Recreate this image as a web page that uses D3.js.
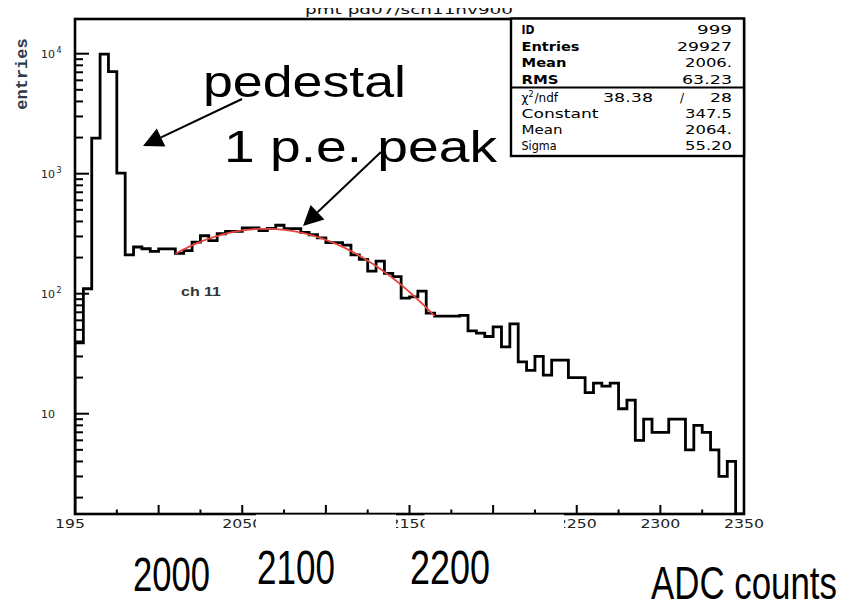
<!DOCTYPE html>
<html>
<head>
<meta charset="utf-8">
<script src="https://cdn.jsdelivr.net/npm/d3@7"></script>
<style>
  body { margin: 0; background: #fff; }
  svg { display: block; }
</style>
</head>
<body>
<svg id="chart" width="845" height="610"></svg>
<script>
// ---- data -------------------------------------------------------------
// ADC histogram, 5-count bins starting at 1950
const binStart = 1950;
const binWidth = 5;
const counts = [
  39, 110, 1980, 9900, 7100, 1010, 211, 245, 237, 225,
  236, 236, 217, 229, 269, 304, 277, 316, 331, 331,
  354, 354, 336, 350, 372, 348, 348, 325, 310, 292,
  266, 266, 254, 211, 193, 154, 187, 148, 139, 92,
  94, 105, 69, 65, 65, 65, 66, 49, 47, 44,
  53, 36, 56, 27, 23, 30, 21, 28, 28, 20,
  20, 15, 18, 17, 18, 11, 13, 6, 9, 7,
  7, 9, 9, 5, 8, 7, 5, 3, 4, 0
];

// Gaussian fit of the single photo-electron peak
const fitConstant = 347.5;
const fitMean = 2064;
const fitSigma = 55.2;
const fitRange = [2010, 2165];

// axes
const xDomain = [1950, 2350];
const yDomain = [1.46, 19460];
const xMajorTicks = [1950, 2000, 2050, 2100, 2150, 2200, 2250, 2300, 2350];
const xMinorTicks = [1975, 2025, 2075, 2125, 2175, 2225, 2275, 2325];
const xTickLabels = ["1950", "2000", "2050", "2100", "2150", "2200", "2250", "2300", "2350"];
const yDecades = [10, 100, 1000, 10000];
const yDecadeExp = ["", "2", "3", "4"];

// statistics box
const statNames = ["ID", "Entries", "Mean", "RMS"];
const statValues = ["999", "29927", "2006.", "63.23"];
const chi2Value = "38.38";
const ndfValue = "28";
const fitNames = ["Constant", "Mean", "Sigma"];
const fitValues = ["347.5", "2064.", "55.20"];

// slide captions
const bigXLabels = ["2000", "2100", "2200"];
const xTitle = "ADC counts";
const yTitle = "entries";
const histTitle = "pmt  pd07/sch11hv900";
const channelLabel = "ch 11";
const notePedestal = "pedestal";
const notePeak = "1 p.e. peak";

// ---- layout -----------------------------------------------------------
const frame = { left: 75, right: 744, top: 19, bottom: 514 };
const svg = d3.select("#chart");

const x = d3.scaleLinear().domain(xDomain).range([frame.left, frame.right]);
const y = d3.scaleLog().domain(yDomain).range([frame.bottom, frame.top]);

const defs = svg.append("defs");
defs.append("clipPath").attr("id", "plotClip")
  .append("rect")
  .attr("x", frame.left).attr("y", frame.top)
  .attr("width", frame.right - frame.left).attr("height", frame.bottom - frame.top);

// ---- histogram outline --------------------------------------------------
const pts = [[x(binStart), frame.bottom]];
counts.forEach((c, i) => {
  const lo = binStart + i * binWidth;
  const hi = lo + binWidth;
  const yy = c > 0 ? y(c) : frame.bottom;
  pts.push([x(lo), yy], [x(hi), yy]);
});
pts.push([x(binStart + counts.length * binWidth), frame.bottom]);

svg.append("path")
  .attr("clip-path", "url(#plotClip)")
  .attr("d", d3.line()(pts))
  .attr("fill", "none")
  .attr("stroke", "#000")
  .attr("stroke-width", 2.8)
  .attr("stroke-linejoin", "miter");

// ---- fitted gaussian ----------------------------------------------------
const gauss = v => fitConstant * Math.exp(-0.5 * Math.pow((v - fitMean) / fitSigma, 2));
const fitPts = d3.range(fitRange[0], fitRange[1] + 0.01, 1).map(v => [x(v), y(gauss(v))]);
svg.append("path")
  .attr("d", d3.line().curve(d3.curveMonotoneX)(fitPts))
  .attr("fill", "none")
  .attr("stroke", "#e5453c")
  .attr("stroke-width", 1.8);

// ---- frame & ticks ------------------------------------------------------
svg.append("rect")
  .attr("x", frame.left).attr("y", frame.top)
  .attr("width", frame.right - frame.left).attr("height", frame.bottom - frame.top)
  .attr("fill", "none").attr("stroke", "#000").attr("stroke-width", 2.6);

const ticks = svg.append("g").attr("stroke", "#000").attr("stroke-width", 2);
xMajorTicks.forEach(v => ticks.append("line")
  .attr("x1", x(v)).attr("x2", x(v)).attr("y1", frame.bottom).attr("y2", frame.bottom - 9));
xMinorTicks.forEach(v => ticks.append("line")
  .attr("x1", x(v)).attr("x2", x(v)).attr("y1", frame.bottom).attr("y2", frame.bottom - 4.5));

// log ticks on the left axis
const yMinor = [];
[1, 10, 100, 1000, 10000].forEach(d => {
  for (let k = 2; k <= 9; k++) {
    const v = d * k;
    if (v > yDomain[0] && v < yDomain[1]) yMinor.push(v);
  }
});
yMinor.forEach(v => ticks.append("line")
  .attr("x1", frame.left).attr("x2", frame.left + 8).attr("y1", y(v)).attr("y2", y(v)));
yDecades.forEach(v => ticks.append("line")
  .attr("x1", frame.left).attr("x2", frame.left + 14).attr("y1", y(v)).attr("y2", y(v)));

// tick labels
const tickFont = "'DejaVu Sans', sans-serif";
svg.append("g").selectAll("text").data(xMajorTicks).join("text")
  .attr("x", d => x(d) - 20).attr("y", 527.5)
  .attr("font-family", tickFont).attr("font-size", 12).attr("fill", "#222")
  .attr("textLength", 40).attr("lengthAdjust", "spacingAndGlyphs")
  .text((d, i) => xTickLabels[i]);

const yLab = svg.append("g").attr("font-family", tickFont).attr("fill", "#222");
yDecades.forEach((v, i) => {
  const t = yLab.append("text").attr("x", 41).attr("y", y(v) + 4).attr("font-size", 11);
  t.append("tspan").text("10");
  if (yDecadeExp[i]) {
    t.append("tspan").attr("dx", 1.5).attr("dy", -5).attr("font-size", 8).text(yDecadeExp[i]);
  }
});

// axis title
svg.append("text")
  .attr("transform", "translate(27,74) rotate(-90)")
  .attr("text-anchor", "middle")
  .attr("font-family", "'Liberation Mono', 'DejaVu Sans Mono', monospace")
  .attr("font-weight", "bold").attr("font-size", 17)
  .attr("fill", "#2d3a4c")
  .text(yTitle);

// histogram title, cut by the top of the page
defs.append("clipPath").attr("id", "titleClip")
  .append("rect").attr("x", 0).attr("y", 8).attr("width", 845).attr("height", 10);
svg.append("text")
  .attr("clip-path", "url(#titleClip)")
  .attr("x", 305).attr("y", 14)
  .attr("font-family", tickFont).attr("font-size", 12.5).attr("fill", "#111")
  .attr("textLength", 208).attr("lengthAdjust", "spacingAndGlyphs")
  .text(histTitle);

// channel tag
svg.append("text")
  .attr("x", 181).attr("y", 296)
  .attr("font-family", "'Liberation Sans', Arial, sans-serif")
  .attr("font-weight", "bold").attr("font-size", 12).attr("fill", "#333")
  .attr("textLength", 40).attr("lengthAdjust", "spacingAndGlyphs")
  .text(channelLabel);

// ---- statistics box ----------------------------------------------------
const box = { left: 511, right: 744, top: 18.5, bottom: 156, split: 87.5 };
const sb = svg.append("g");
sb.append("rect")
  .attr("x", box.left).attr("y", box.top)
  .attr("width", box.right - box.left).attr("height", box.bottom - box.top)
  .attr("fill", "#fff").attr("stroke", "#000").attr("stroke-width", 2.4);
sb.append("line")
  .attr("x1", box.left).attr("x2", box.right).attr("y1", box.split).attr("y2", box.split)
  .attr("stroke", "#000").attr("stroke-width", 2.2);

const statFont = "'DejaVu Sans', sans-serif";
const nameX = 521.5, valueRight = 732;
const topRows = [34, 50.5, 67, 83.5];
const nameW = [13, 58, 45, 37];
const valW = [35, 55, 47, 50];
statNames.forEach((n, i) => {
  sb.append("text").attr("x", nameX).attr("y", topRows[i])
    .attr("font-family", statFont).attr("font-weight", "bold").attr("font-size", 12)
    .attr("textLength", nameW[i]).attr("lengthAdjust", "spacingAndGlyphs").text(n);
  sb.append("text").attr("x", valueRight - valW[i]).attr("y", topRows[i])
    .attr("font-family", statFont).attr("font-size", 12)
    .attr("textLength", valW[i]).attr("lengthAdjust", "spacingAndGlyphs").text(statValues[i]);
});

// chi2 / ndf row
const chiRow = 102;
const chi = sb.append("text").attr("x", nameX).attr("y", chiRow)
  .attr("font-family", statFont).attr("font-size", 12);
chi.append("tspan").text("χ");
chi.append("tspan").attr("dy", -5).attr("font-size", 8).text("2");
chi.append("tspan").attr("dy", 5).attr("dx", 1).text("/ndf");
sb.append("text").attr("x", 603).attr("y", chiRow)
  .attr("font-family", statFont).attr("font-size", 12)
  .attr("textLength", 50).attr("lengthAdjust", "spacingAndGlyphs").text(chi2Value);
sb.append("text").attr("x", 680).attr("y", chiRow)
  .attr("font-family", statFont).attr("font-size", 12).text("/");
sb.append("text").attr("x", valueRight - 22).attr("y", chiRow)
  .attr("font-family", statFont).attr("font-size", 12)
  .attr("textLength", 22).attr("lengthAdjust", "spacingAndGlyphs").text(ndfValue);

const fitRows = [118, 134, 150];
const fitNameW = [77, 41, 35];
fitNames.forEach((n, i) => {
  sb.append("text").attr("x", nameX).attr("y", fitRows[i])
    .attr("font-family", statFont).attr("font-size", 12)
    .attr("textLength", fitNameW[i]).attr("lengthAdjust", "spacingAndGlyphs").text(n);
  sb.append("text").attr("x", valueRight - 47).attr("y", fitRows[i])
    .attr("font-family", statFont).attr("font-size", 12)
    .attr("textLength", 47).attr("lengthAdjust", "spacingAndGlyphs").text(fitValues[i]);
});

// ---- annotations ------------------------------------------------------
const sans = "'Liberation Sans', Arial, sans-serif";
svg.append("text").attr("x", 203).attr("y", 97)
  .attr("font-family", sans).attr("font-size", 45)
  .attr("textLength", 203).attr("lengthAdjust", "spacingAndGlyphs")
  .text(notePedestal);
svg.append("text").attr("x", 224).attr("y", 162)
  .attr("font-family", sans).attr("font-size", 45)
  .attr("textLength", 273).attr("lengthAdjust", "spacingAndGlyphs")
  .text(notePeak);

function arrow(x1, y1, x2, y2) {
  const ang = Math.atan2(y2 - y1, x2 - x1);
  const len = 20, half = 10;
  const bx = x2 - len * Math.cos(ang), by = y2 - len * Math.sin(ang);
  const nx = -Math.sin(ang), ny = Math.cos(ang);
  svg.append("line").attr("x1", x1).attr("y1", y1).attr("x2", bx).attr("y2", by)
    .attr("stroke", "#000").attr("stroke-width", 2);
  svg.append("path")
    .attr("d", `M${x2},${y2}L${bx + nx * half},${by + ny * half}L${bx - nx * half},${by - ny * half}Z`)
    .attr("fill", "#000");
}
arrow(242, 99, 143, 146);
arrow(381, 152, 303, 226);

// ---- caption strip below the axis -----------------------------------------
const strip = svg.append("g").attr("fill", "#fff");
strip.append("rect").attr("x", 85).attr("y", 516.5).attr("width", 137).attr("height", 94);
strip.append("rect").attr("x", 256).attr("y", 514.6).attr("width", 140).attr("height", 96);
strip.append("rect").attr("x", 424.5).attr("y", 514.6).attr("width", 139.5).attr("height", 96);

// narrow captions: natural glyphs squeezed horizontally to a set width
function squeezed(txt, left, baseline, size, width) {
  const g = svg.append("g");
  const t = g.append("text")
    .attr("font-family", sans).attr("font-size", size)
    .text(txt);
  const natural = t.node().getComputedTextLength();
  g.attr("transform", `translate(${left},${baseline}) scale(${width / natural},1)`);
}
const bigPos = [[133, 591, 77], [257, 584, 78], [410, 584, 80]];
bigXLabels.forEach((t, i) => squeezed(t, bigPos[i][0], bigPos[i][1], 48, bigPos[i][2]));
squeezed(xTitle, 651, 599, 47, 186);
</script>
</body>
</html>
